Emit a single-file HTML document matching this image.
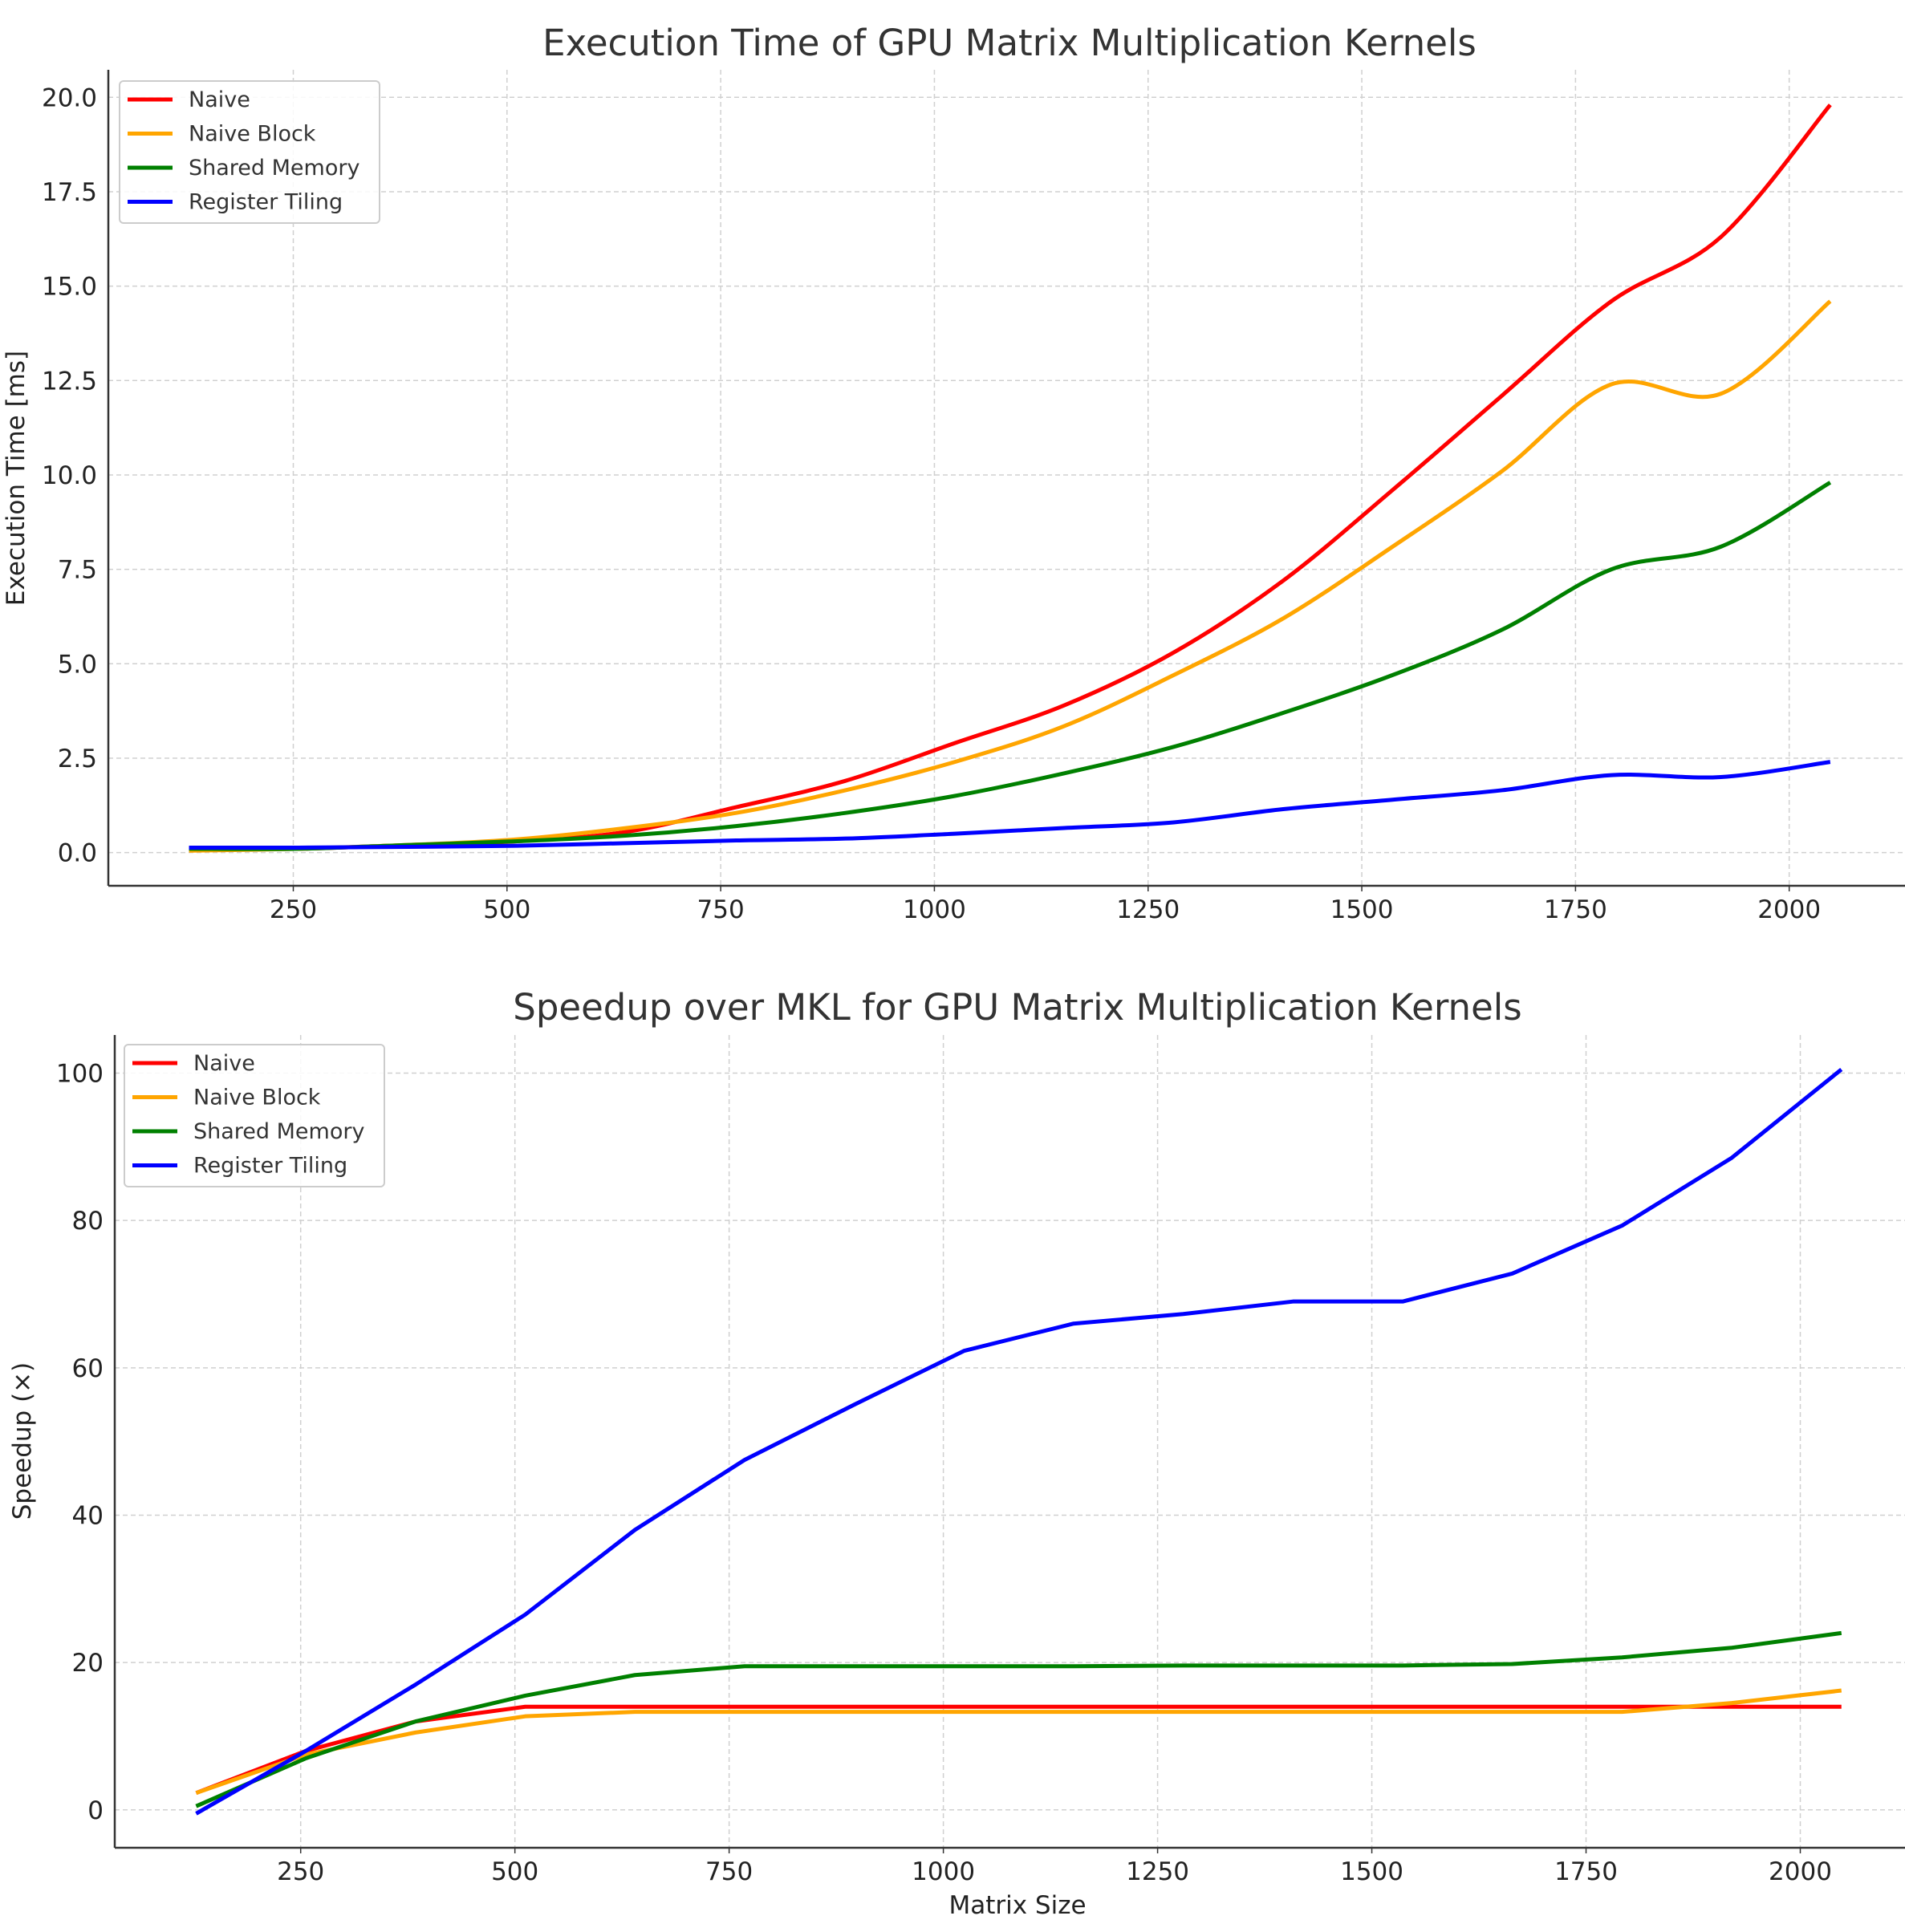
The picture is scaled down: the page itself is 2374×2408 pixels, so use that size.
<!DOCTYPE html>
<html><head><meta charset="utf-8">
<style>
html,body{margin:0;padding:0;background:#fff;}
svg{display:block;font-family:"DejaVu Sans","Liberation Sans",sans-serif;}
</style></head>
<body>
<svg id="chart" width="2374" height="2408" viewBox="0 0 2374 2408" xmlns="http://www.w3.org/2000/svg"></svg>
<script>
const sizes = [128,256,384,512,640,768,896,1024,1152,1280,1408,1536,1664,1792,1920,2048];
const seriesNames = ["Naive","Naive Block","Shared Memory","Register Tiling"];
const seriesColors = ["#ff0000","#ffa500","#008000","#0000ff"];
const timeNaive = [0.1,0.1,0.2,0.3,0.55,1.2,1.9,2.9,3.9,5.3,7.2,9.6,12.1,14.6,16.3,19.8];
const timeNaiveBlock = [0.05,0.1,0.2,0.35,0.65,1.05,1.65,2.4,3.35,4.7,6.2,8.1,10.1,12.4,12.15,14.6];
const timeShared = [0.1,0.1,0.2,0.3,0.45,0.7,1.05,1.5,2.1,2.8,3.7,4.7,5.9,7.5,8.1,9.8];
const timeRegister = [0.13,0.13,0.15,0.18,0.25,0.32,0.37,0.5,0.65,0.8,1.15,1.4,1.65,2.05,2.0,2.4];
const spNaive = [2.3,8,12,14,14,14,14,14,14,14,14,14,14,14,14,14];
const spNaiveBlock = [2.3,7.5,10.5,12.7,13.3,13.3,13.3,13.3,13.3,13.3,13.3,13.3,13.3,13.3,14.5,16.2];
const spShared = [0.5,7,12,15.5,18.3,19.5,19.5,19.5,19.5,19.6,19.6,19.6,19.8,20.7,22,24];
const spRegister = [-0.5,8,17,26.5,38,47.5,55,62.3,66,67.3,69,69,72.8,79.3,88.5,100.5];
const xTicks = [250,500,750,1000,1250,1500,1750,2000];
const yTicksTop = [0,2.5,5,7.5,10,12.5,15,17.5,20];
const yTicksBot = [0,20,40,60,80,100];

const NS="http://www.w3.org/2000/svg";
const svg=document.getElementById('chart');
function mk(tag,attrs,parent){const e=document.createElementNS(NS,tag);for(const k in attrs)e.setAttribute(k,attrs[k]);(parent||svg).appendChild(e);return e;}

function drawPanel(cfg){
  const g=mk('g',{});
  
  
  const X=v=>cfg.x0+(v-250)*(cfg.x1-cfg.x0)/1750;
  const Y=v=>cfg.y0+(v-cfg.yv0)*(cfg.y1-cfg.y0)/(cfg.yv1-cfg.yv0);
  xTicks.forEach(t=>{
    const l=mk('line',{x1:X(t),x2:X(t),y1:cfg.top,y2:cfg.bottom,stroke:'#d0d0d0','stroke-width':1.5,'stroke-dasharray':'6,4'},g);
    
    const tx=mk('text',{x:X(t),y:cfg.bottom+40,'text-anchor':'middle','font-size':31,fill:'#222'},g);
    tx.textContent=t;
    
    mk('line',{x1:X(t),x2:X(t),y1:cfg.bottom,y2:cfg.bottom+7,stroke:'#333','stroke-width':1.5},g);
  });
  cfg.yTicks.forEach((t,i)=>{
    const l=mk('line',{x1:cfg.left,x2:2374,y1:Y(t),y2:Y(t),stroke:'#d0d0d0','stroke-width':1.5,'stroke-dasharray':'6,4'},g);
    
    const tx=mk('text',{x:cfg.left-14,y:Y(t)+11,'text-anchor':'end','font-size':31,fill:'#222'},g);
    tx.textContent=cfg.yLabels[i];
    
  });
  const s1=mk('line',{x1:cfg.left,x2:cfg.left,y1:cfg.top,y2:cfg.bottom,stroke:'#333','stroke-width':2.5},g);
  
  const s2=mk('line',{x1:cfg.left,x2:2374,y1:cfg.bottom,y2:cfg.bottom,stroke:'#333','stroke-width':2.5},g);
  
  cfg.series.forEach((vals,si)=>{
    const pts=sizes.map((s,i)=>[X(s),Y(vals[i])]);
    let d='M'+pts[0][0]+','+pts[0][1];
    if(cfg.smooth){
      for(let i=0;i<pts.length-1;i++){
        const p0=pts[Math.max(0,i-1)],p1=pts[i],p2=pts[i+1],p3=pts[Math.min(pts.length-1,i+2)];
        const c1=[p1[0]+(p2[0]-p0[0])/6,p1[1]+(p2[1]-p0[1])/6];
        const c2=[p2[0]-(p3[0]-p1[0])/6,p2[1]-(p3[1]-p1[1])/6];
        d+=` C${c1[0]},${c1[1]} ${c2[0]},${c2[1]} ${p2[0]},${p2[1]}`;
      }
    } else {
      for(let i=1;i<pts.length;i++) d+=` L${pts[i][0]},${pts[i][1]}`;
    }
    const p=mk('path',{d:d,fill:'none',stroke:seriesColors[si],'stroke-width':5,'stroke-linejoin':'round'},g);
    
    
  });
  const ti=mk('text',{x:cfg.titleX,y:cfg.titleY,'text-anchor':'middle','font-size':45,fill:'#333'},g);
  ti.textContent=cfg.title;
  
  const yl=mk('text',{x:0,y:0,'text-anchor':'middle','font-size':31,fill:'#222',transform:`translate(${cfg.ylabX},${cfg.ylabY}) rotate(-90)`},g);
  yl.textContent=cfg.ylabel;
  
  const lg=mk('g',{},g);
  
  mk('rect',{x:cfg.lx,y:cfg.ly,width:324,height:177,rx:5,fill:'#fff','fill-opacity':0.85,stroke:'#ccc','stroke-width':2},lg);
  seriesNames.forEach((n,i)=>{
    const yy=cfg.ly+23+i*42.5;
    const e=mk('g',{},lg);
    
    mk('line',{x1:cfg.lx+10,x2:cfg.lx+66,y1:yy,y2:yy,stroke:seriesColors[i],'stroke-width':5},e);
    const t=mk('text',{x:cfg.lx+86,y:yy+9,'font-size':27,fill:'#333'},e);
    t.textContent=n;
  });
}

drawPanel({name:'execution-time-chart',x0:365.5,x1:2229.7,yv0:0,yv1:20,y0:1062.6,y1:121.3,
  left:135,top:87,bottom:1104,yTicks:yTicksTop,yLabels:yTicksTop.map(v=>v.toFixed(1)),
  series:[timeNaive,timeNaiveBlock,timeShared,timeRegister],smooth:true,
  title:'Execution Time of GPU Matrix Multiplication Kernels',titleX:1258,titleY:69,
  ylabel:'Execution Time [ms]',ylabX:30,ylabY:596,lx:149,ly:101});
drawPanel({name:'speedup-chart',x0:374.7,x1:2243.5,yv0:0,yv1:100,y0:2255.8,y1:1337.5,
  left:143,top:1290,bottom:2303,yTicks:yTicksBot,yLabels:yTicksBot.map(String),
  series:[spNaive,spNaiveBlock,spShared,spRegister],smooth:false,
  title:'Speedup over MKL for GPU Matrix Multiplication Kernels',titleX:1268,titleY:1271,
  ylabel:'Speedup (×)',ylabX:38,ylabY:1796,lx:155,ly:1302});
const xl=mk('text',{x:1268,y:2385,'text-anchor':'middle','font-size':31,fill:'#222'});
xl.textContent='Matrix Size';


</script>
</body></html>
